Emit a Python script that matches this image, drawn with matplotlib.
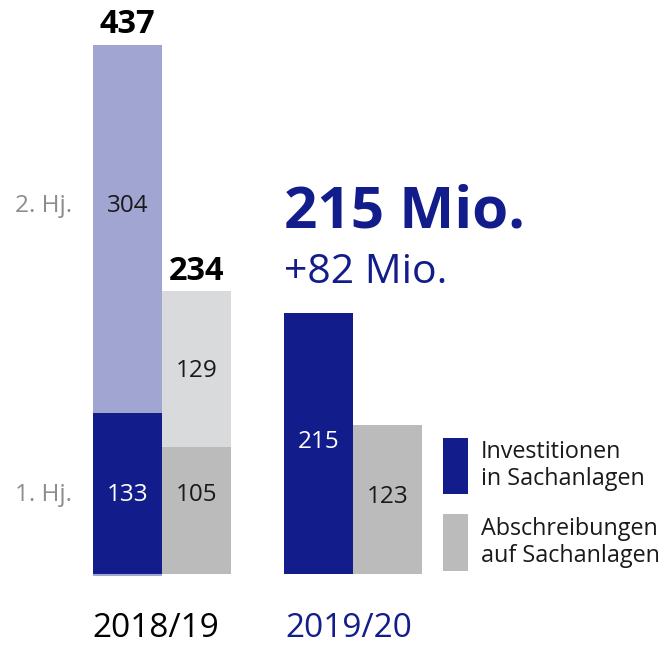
import matplotlib.pyplot as plt

# values in Mio. EUR
invest_1819 = [133, 304]   # 1. Hj., 2. Hj.
abschr_1819 = [105, 129]
invest_1920 = 215
abschr_1920 = 123
years = ["2018/19", "2019/20"]
half_labels = ["1. Hj.", "2. Hj."]
headline = "215 Mio."
delta = "+82 Mio."
legend_lines = [["Investitionen", "in Sachanlagen"],
                ["Abschreibungen", "auf Sachanlagen"]]

BLUE = "#131c8b"
LIGHT_BLUE = "#a1a5d2"
GRAY = "#bbbbbb"
LIGHT_GRAY = "#d9dadb"
GRAY_TXT = "#8c8c8c"
DARK = "#1a1a1a"

plt.rcParams['font.family'] = ['Open Sans', 'DejaVu Sans']

W, H = 668, 645
base = 573.5      # pixel row of the zero line
scale = 1.2094    # pixels per Mio.

def py(p):
    # pixel row (from top) -> data y
    return (base - p) / scale

fig = plt.figure(figsize=(W / 100, H / 100), dpi=100)
ax = fig.add_axes([0, 0, 1, 1])
ax.set_xlim(0, W)
ax.set_ylim(py(H), py(0))
ax.axis('off')

bw = 69
x_inv, x_abs = 93, 162
x_inv2, x_abs2 = 284, 353

# 2018/19 stacked bars
ax.bar(x_inv, invest_1819[0], width=bw, align='edge', color=BLUE, lw=0)
ax.bar(x_inv, invest_1819[1], bottom=invest_1819[0], width=bw, align='edge', color=LIGHT_BLUE, lw=0)
ax.bar(x_abs, abschr_1819[0], width=bw, align='edge', color=GRAY, lw=0)
ax.bar(x_abs, abschr_1819[1], bottom=abschr_1819[0], width=bw, align='edge', color=LIGHT_GRAY, lw=0)
ax.hlines(-0.9, x_inv, x_inv + bw, color=LIGHT_BLUE, lw=1.5)

# 2019/20 bars
ax.bar(x_inv2, invest_1920, width=bw, align='edge', color=BLUE, lw=0)
ax.bar(x_abs2, abschr_1920, width=bw, align='edge', color=GRAY, lw=0)

d8 = 8 / scale   # half digit height in data units
fs_val = 17.5
row1 = invest_1819[0] / 2 - d8
row2 = py(212)

ax.text(x_inv + bw / 2, row1, str(invest_1819[0]), ha='center', va='baseline', fontsize=fs_val, color='white')
ax.text(x_inv + bw / 2, row2, str(invest_1819[1]), ha='center', va='baseline', fontsize=fs_val, color=DARK)
ax.text(x_abs + bw / 2, row1, str(abschr_1819[0]), ha='center', va='baseline', fontsize=fs_val, color=DARK)
ax.text(x_abs + bw / 2, abschr_1819[0] + abschr_1819[1] / 2 - d8, str(abschr_1819[1]),
        ha='center', va='baseline', fontsize=fs_val, color=DARK)
ax.text(x_inv2 + bw / 2, invest_1920 / 2 - d8 + 3 / scale, str(invest_1920),
        ha='center', va='baseline', fontsize=fs_val, color='white')
ax.text(x_abs2 + bw / 2, abschr_1920 / 2 - d8 + 4 / scale, str(abschr_1920),
        ha='center', va='baseline', fontsize=fs_val, color=DARK)

# totals
ax.text(x_inv + bw / 2, sum(invest_1819) + 12 / scale, str(sum(invest_1819)),
        ha='center', va='baseline', fontsize=23.5, fontweight='bold', color='black')
ax.text(x_abs + bw / 2, sum(abschr_1819) + 11 / scale, str(sum(abschr_1819)),
        ha='center', va='baseline', fontsize=23.5, fontweight='bold', color='black')

# half-year labels
ax.text(72, row1, half_labels[0], ha='right', va='baseline', fontsize=fs_val, color=GRAY_TXT)
ax.text(72, row2, half_labels[1], ha='right', va='baseline', fontsize=fs_val, color=GRAY_TXT)

# headline
ax.text(284, py(227), headline, ha='left', va='baseline', fontsize=42, fontweight='bold', color=BLUE)
ax.text(284, py(283), delta, ha='left', va='baseline', fontsize=29.5, color=BLUE)

# year labels
ax.text(156, py(637), years[0], ha='center', va='baseline', fontsize=24, color='black')
ax.text(349, py(637), years[1], ha='center', va='baseline', fontsize=24, color=BLUE)

# legend
for (top, bot), col, lines, bl in zip([(438, 494), (514, 571)], [BLUE, GRAY],
                                      legend_lines, [(458, 485), (535, 562)]):
    ax.bar(443, py(top) - py(bot), bottom=py(bot), width=25, align='edge', color=col, lw=0)
    for txt, b in zip(lines, bl):
        ax.text(481, py(b), txt, ha='left', va='baseline', fontsize=16.8, color=DARK)

fig.savefig("out.png", dpi=100, facecolor='white')
